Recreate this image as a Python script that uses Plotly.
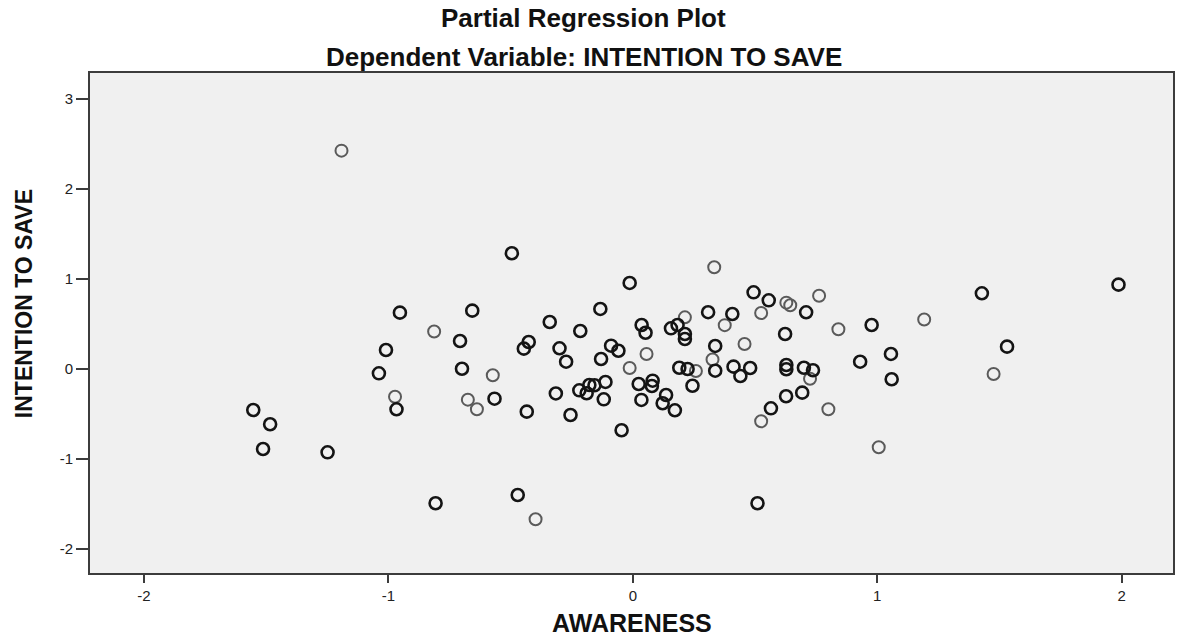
import plotly.graph_objects as go

# Partial regression residuals (AWARENESS vs INTENTION TO SAVE)
dark_x = [-0.953, -0.657, -0.707, -1.010, -1.039, -0.699, -0.967, -0.566, -1.553, -1.484,
          -1.513, -1.249, -0.807, -0.495, -0.013, -0.133, -0.340, -0.215, -0.426, -0.446,
          -0.300, -0.273, -0.130, -0.089, -0.059, 0.036, 0.052, 0.156, 0.183, 0.213,
          0.213, 0.308, 0.407, 0.337, 0.190, 0.224, 0.337, 0.412, -0.434, -0.315,
          -0.255, -0.219, -0.189, -0.178, -0.157, -0.112, -0.119, 0.024, 0.081, 0.078,
          0.035, 0.136, 0.122, 0.172, 0.244, -0.046, -0.471, 0.494, 0.556, 0.709,
          0.623, 0.977, 0.440, 0.480, 0.628, 0.628, 0.700, 0.737, 0.930, 1.056,
          1.059, 0.693, 0.627, 0.565, 0.510, 1.428, 1.987, 1.531]
dark_y = [0.626, 0.648, 0.311, 0.211, -0.048, 0.003, -0.448, -0.330, -0.456, -0.614,
          -0.889, -0.926, -1.492, 1.286, 0.956, 0.667, 0.522, 0.422, 0.300, 0.226,
          0.230, 0.081, 0.111, 0.259, 0.203, 0.489, 0.403, 0.452, 0.489, 0.389,
          0.333, 0.631, 0.611, 0.256, 0.014, 0.000, -0.019, 0.026, -0.474, -0.272,
          -0.511, -0.237, -0.270, -0.178, -0.181, -0.144, -0.337, -0.167, -0.130, -0.189,
          -0.344, -0.289, -0.381, -0.459, -0.186, -0.681, -1.400, 0.852, 0.763, 0.630,
          0.389, 0.489, -0.078, 0.011, 0.044, -0.003, 0.014, -0.014, 0.081, 0.167,
          -0.114, -0.263, -0.303, -0.437, -1.492, 0.841, 0.937, 0.248]

light_x = [-1.192, -0.813, -0.573, -0.973, -0.675, -0.638, 0.333, 0.213, 0.376, 0.056,
           0.326, -0.013, 0.258, -0.398, 0.628, 0.644, 0.762, 0.525, 0.841, 1.192,
           0.457, 0.725, 0.800, 0.525, 1.006, 1.476]
light_y = [2.426, 0.417, -0.070, -0.308, -0.341, -0.448, 1.131, 0.574, 0.487, 0.167,
           0.106, 0.011, -0.022, -1.670, 0.737, 0.708, 0.814, 0.622, 0.441, 0.550,
           0.278, -0.108, -0.448, -0.581, -0.870, -0.056]

x_ticks = [-2, -1, 0, 1, 2]
x_tick_labels = ["-2", "-1", "0", "1", "2"]
y_ticks = [-2, -1, 0, 1, 2, 3]
y_tick_labels = ["-2", "-1", "0", "1", "2", "3"]

title_text = "Partial Regression Plot"
subtitle_text = "Dependent Variable: INTENTION TO SAVE"
x_title = "AWARENESS"
y_title = "INTENTION TO SAVE"

FONT = "Liberation Sans, Arial, sans-serif"

fig = go.Figure()
fig.add_trace(go.Scatter(
    x=light_x, y=light_y, mode="markers",
    marker=dict(symbol="circle-open", size=12, color="#5a5a5a",
                line=dict(width=2, color="#5a5a5a")),
    showlegend=False, hoverinfo="x+y"))
fig.add_trace(go.Scatter(
    x=dark_x, y=dark_y, mode="markers",
    marker=dict(symbol="circle-open", size=12, color="#141414",
                line=dict(width=2.6, color="#141414")),
    showlegend=False, hoverinfo="x+y"))

axis_common = dict(
    showgrid=False, zeroline=False, showline=True, mirror=True,
    linecolor="#3c3c3c", linewidth=1.6, ticks="outside", tickwidth=1.6,
    tickcolor="#3c3c3c", tickfont=dict(family=FONT, size=15, color="#222"),
)

fig.update_layout(
    width=1177, height=638,
    margin=dict(l=90, r=2, t=73, b=65),
    paper_bgcolor="white", plot_bgcolor="#f0f0f0",
    xaxis=dict(range=[-2.221, 2.21], tickvals=x_ticks, ticktext=x_tick_labels,
               ticklen=8, **axis_common),
    yaxis=dict(range=[-2.267, 3.289], tickvals=y_ticks, ticktext=y_tick_labels,
               ticklen=12, **axis_common),
    annotations=[
        dict(text=f"<b>{title_text}</b>", xref="paper", yref="paper",
             x=0.456, y=1.11, xanchor="center", yanchor="middle", showarrow=False,
             font=dict(family=FONT, size=26, color="#111")),
        dict(text=f"<b>{subtitle_text}</b>", xref="paper", yref="paper",
             x=0.456, y=1.032, xanchor="center", yanchor="middle", showarrow=False,
             font=dict(family=FONT, size=26, color="#111")),
        dict(text=f"<b>{x_title}</b>", xref="paper", yref="paper",
             x=0.5, y=-0.1, xanchor="center", yanchor="middle", showarrow=False,
             font=dict(family=FONT, size=25, color="#111")),
        dict(text=f"<b>{y_title}</b>", xref="paper", yref="paper",
             x=-0.0608, y=0.538, xanchor="center", yanchor="middle", showarrow=False,
             textangle=-90, font=dict(family=FONT, size=23, color="#111")),
    ],
)

fig.write_html("out.html")
